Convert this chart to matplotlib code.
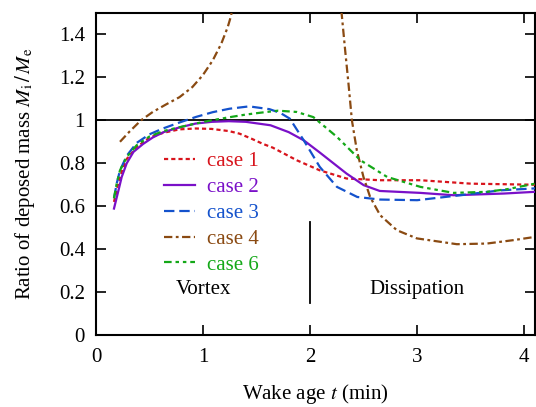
import matplotlib
matplotlib.use("Agg")
import matplotlib.pyplot as plt

plt.rcParams['font.family'] = ['Liberation Serif', 'DejaVu Serif']
plt.rcParams['mathtext.fontset'] = 'stix'
plt.rcParams['lines.scale_dashes'] = False

# ---- data ----
case1_t = [0.168, 0.2, 0.24, 0.287, 0.38, 0.50, 0.63, 0.78, 0.93, 1.08, 1.24, 1.34, 1.45,
           1.56, 1.65, 1.875, 2.09, 2.34, 2.65, 3.03, 3.50, 4.1]
case1_r = [0.62, 0.69, 0.76, 0.82, 0.875, 0.92, 0.942, 0.958, 0.962, 0.96, 0.95, 0.938, 0.915,
           0.89, 0.873, 0.814, 0.767, 0.729, 0.721, 0.721, 0.705, 0.70]

case2_t = [0.168, 0.21, 0.24, 0.287, 0.35, 0.44, 0.53, 0.63, 0.78, 0.93, 1.08, 1.24, 1.40,
           1.63, 1.80, 1.94, 2.09, 2.34, 2.50, 2.65, 3.03, 3.34, 3.81, 4.1]
case2_r = [0.589, 0.674, 0.736, 0.80, 0.853, 0.89, 0.92, 0.945, 0.967, 0.985, 0.993, 0.996, 0.993,
           0.977, 0.945, 0.907, 0.85, 0.752, 0.698, 0.671, 0.662, 0.651, 0.659, 0.667]

case3_t = [0.168, 0.193, 0.224, 0.287, 0.38, 0.50, 0.62, 0.78, 0.935, 1.09, 1.246, 1.43, 1.62,
           1.72, 1.81, 1.94, 2.09, 2.25, 2.44, 2.65, 3.0, 3.40, 3.78, 4.1]
case3_r = [0.637, 0.705, 0.767, 0.835, 0.895, 0.935, 0.961, 0.99, 1.016, 1.038, 1.054, 1.065, 1.052,
           1.035, 1.008, 0.907, 0.783, 0.69, 0.643, 0.631, 0.628, 0.651, 0.674, 0.683]

case4_t = [0.224, 0.31, 0.42, 0.53, 0.654, 0.78, 0.90, 0.997, 1.09, 1.17, 1.23, 1.262, 1.28,
           2.28, 2.296, 2.327, 2.358, 2.39, 2.436, 2.498, 2.56, 2.654, 2.81, 2.997, 3.37, 3.65,
           3.90, 4.1]
case4_r = [0.90, 0.946, 1.0, 1.039, 1.074, 1.108, 1.155, 1.21, 1.279, 1.357, 1.434, 1.488, 1.56,
           1.56, 1.488, 1.326, 1.171, 1.0, 0.86, 0.736, 0.643, 0.558, 0.488, 0.45, 0.423, 0.426,
           0.442, 0.457]

case6_t = [0.168, 0.193, 0.224, 0.287, 0.38, 0.50, 0.63, 0.78, 0.93, 1.08, 1.24, 1.40, 1.56,
           1.70, 1.875, 2.03, 2.25, 2.47, 2.72, 3.03, 3.34, 3.65, 3.85, 4.1]
case6_r = [0.637, 0.705, 0.767, 0.829, 0.884, 0.925, 0.95, 0.968, 0.985, 1.0, 1.014, 1.027, 1.037,
           1.045, 1.039, 1.015, 0.923, 0.814, 0.736, 0.69, 0.662, 0.667, 0.68, 0.705]

labels = ['case 1', 'case 2', 'case 3', 'case 4', 'case 6']
colors = ['#d8141c', '#7a10c8', '#1452cc', '#8a4a12', '#14a818']
dashes = [(3.0, 2.2), None, (7.5, 3.5), (6.0, 2.5, 2.0, 2.5), (5.5, 2.8, 2.5, 2.8, 2.5, 2.8)]
series = [(case1_t, case1_r), (case2_t, case2_r), (case3_t, case3_r),
          (case4_t, case4_r), (case6_t, case6_r)]

x_ticks = [0, 1, 2, 3, 4]
y_ticks = [0, 0.2, 0.4, 0.6, 0.8, 1, 1.2, 1.4]
y_ticklabels = ['0', '0.2', '0.4', '0.6', '0.8', '1', '1.2', '1.4']

FS = 15

fig = plt.figure(figsize=(5.36, 4.07), dpi=100)
ax = fig.add_axes([96 / 536, 72 / 407, 439 / 536, 322 / 407])

ax.axhline(1.0, color='black', lw=1.3, zorder=1)
ax.plot([2, 2], [0.15, 0.525], color='black', lw=1.3)

for (t, r), lab, c, d in zip(series, labels, colors, dashes):
    line, = ax.plot(t, r, color=c, lw=1.6, label=lab, zorder=3)
    if d is not None:
        line.set_dashes(d)

ax.set_xlim(0, 4.1)
ax.set_ylim(0, 1.5)
ax.set_xticks(x_ticks)
ax.set_yticks(y_ticks)
ax.set_yticklabels(y_ticklabels)
ax.tick_params(direction='in', length=7.5, width=1.2, labelsize=FS,
               top=True, right=True)
ax.tick_params(axis='x', pad=9)
ax.tick_params(axis='y', pad=8)
for s in ax.spines.values():
    s.set_linewidth(1.5)

ax.text(1.0, 0.19, 'Vortex', ha='center', va='baseline', fontsize=FS)
ax.text(3.0, 0.19, 'Dissipation', ha='center', va='baseline', fontsize=FS)

ax.set_xlabel('Wake age $t$ (min)', fontsize=FS, labelpad=11)
ax.set_ylabel(r'Ratio of deposed mass $M_\mathrm{i}\,/\,M_\mathrm{e}$', fontsize=FS, labelpad=16)

leg = ax.legend(loc='upper left', bbox_to_anchor=(0.135, 0.595), frameon=False,
                fontsize=FS, handlelength=1.5, handletextpad=0.58, labelspacing=0.3,
                borderaxespad=0)
for txt, c in zip(leg.get_texts(), colors):
    txt.set_color(c)

fig.savefig('out.png', dpi=100)
